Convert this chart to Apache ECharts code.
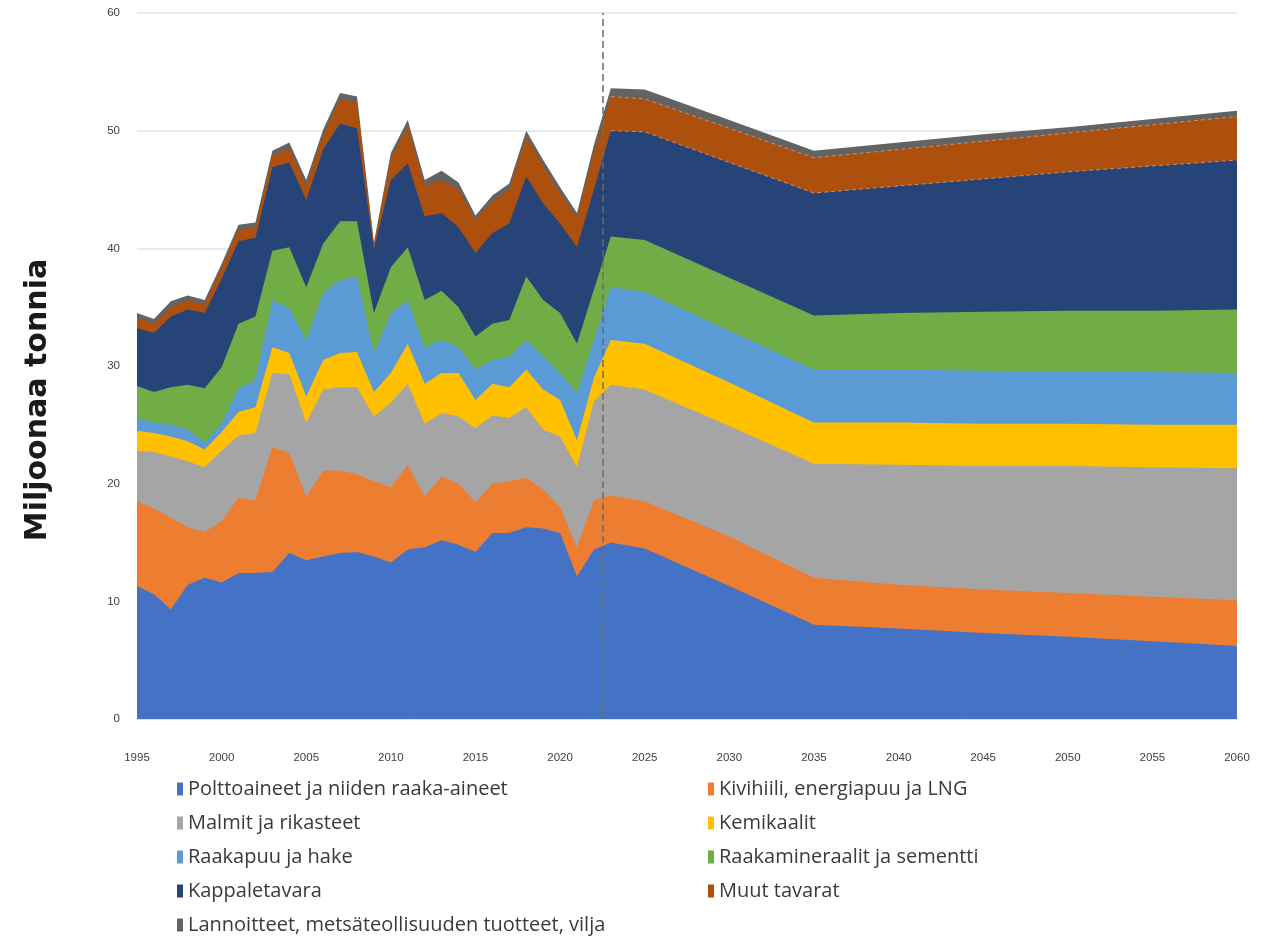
<!DOCTYPE html>
<html>
<head>
<meta charset="utf-8">
<script src="https://cdn.jsdelivr.net/npm/echarts@6/dist/echarts.min.js"></script>
<style>
html,body{margin:0;padding:0;background:#fff;}
#chart{width:1266px;height:944px;}
</style>
</head>
<body>
<div id="chart"></div>
<script>
// ---- DATA ----
const years = [1995,1996,1997,1998,1999,2000,2001,2002,2003,2004,2005,2006,2007,2008,2009,2010,2011,2012,2013,2014,2015,2016,2017,2018,2019,2020,2021,2022,
               2023,2025,2030,2035,2040,2045,2050,2055,2060];

const seriesNames = [
  'Polttoaineet ja niiden raaka-aineet',
  'Kivihiili, energiapuu ja LNG',
  'Malmit ja rikasteet',
  'Kemikaalit',
  'Raakapuu ja hake',
  'Raakamineraalit ja sementti',
  'Kappaletavara',
  'Muut tavarat',
  'Lannoitteet, metsäteollisuuden tuotteet, vilja'
];

const polttoaineet = [11.3,10.6,9.3,11.4,12.0,11.6,12.4,12.4,12.5,14.1,13.5,13.8,14.1,14.2,13.8,13.3,14.4,14.6,15.2,14.8,14.2,15.8,15.8,16.3,16.2,15.8,12.1,14.4,
                      15.0,14.5,11.3,8.0,7.7,7.3,7.0,6.6,6.2];
const kivihiili   = [7.2,7.3,7.8,4.9,3.9,5.2,6.4,6.2,10.6,8.5,5.4,7.3,7.0,6.6,6.4,6.4,7.2,4.3,5.4,5.2,4.2,4.2,4.4,4.2,3.3,2.2,2.5,4.2,
                      4.0,4.0,4.2,4.0,3.7,3.7,3.7,3.8,3.9];
const malmit      = [4.3,4.8,5.2,5.6,5.5,6.0,5.3,5.7,6.3,6.7,6.3,6.9,7.1,7.4,5.5,7.2,6.9,6.2,5.4,5.7,6.3,5.8,5.4,6.0,5.1,6.0,6.8,8.4,
                      9.4,9.5,9.4,9.7,10.2,10.5,10.8,11.0,11.2];
const kemikaalit  = [1.7,1.6,1.7,1.7,1.5,1.6,2.0,2.2,2.2,1.8,2.2,2.5,2.9,3.0,2.1,2.5,3.4,3.4,3.4,3.7,2.4,2.7,2.6,3.2,3.4,3.1,2.3,2.0,
                      3.8,3.9,3.7,3.5,3.6,3.6,3.6,3.6,3.7];
const raakapuu    = [1.1,0.9,1.0,1.0,0.6,0.7,2.0,2.3,4.0,3.8,4.8,5.7,6.2,6.4,3.3,5.1,3.7,3.1,2.8,2.2,2.6,2.0,2.6,2.5,2.8,2.3,4.0,3.2,
                      4.5,4.4,4.4,4.5,4.5,4.5,4.4,4.5,4.4];
const raakamineraalit = [2.7,2.6,3.2,3.8,4.6,4.8,5.5,5.4,4.2,5.2,4.5,4.2,5.0,4.7,3.4,3.9,4.5,4.0,4.2,3.4,2.8,3.1,3.1,5.4,4.8,5.1,4.2,4.3,
                      4.3,4.4,4.5,4.6,4.8,5.0,5.2,5.2,5.4];
const kappaletavara = [4.9,5.0,6.0,6.4,6.4,7.5,7.0,6.7,7.1,7.2,7.4,8.0,8.3,7.9,5.4,7.4,7.1,7.1,6.6,6.8,7.1,7.7,8.2,8.5,8.2,7.6,8.2,8.5,
                      9.0,9.2,9.8,10.4,10.8,11.3,11.8,12.3,12.7];
const muut        = [0.9,0.8,0.8,0.8,0.7,0.9,1.0,0.9,1.0,1.2,1.2,1.2,2.1,2.2,0.3,1.8,3.2,2.6,2.8,3.2,2.8,2.7,2.9,3.4,3.2,2.6,2.5,3.2,
                      2.9,2.8,2.9,3.0,3.1,3.2,3.3,3.5,3.7];
const lannoitteet = [0.4,0.4,0.5,0.4,0.4,0.4,0.4,0.4,0.4,0.5,0.5,0.5,0.5,0.5,0.3,0.5,0.5,0.5,0.8,0.6,0.4,0.5,0.5,0.5,0.5,0.5,0.4,0.6,
                      0.7,0.8,0.7,0.6,0.6,0.6,0.5,0.5,0.5];

const seriesValues = [polttoaineet,kivihiili,malmit,kemikaalit,raakapuu,raakamineraalit,kappaletavara,muut,lannoitteet];
const colors = ['#4472C4','#ED7D31','#A5A5A5','#FFC000','#5B9BD5','#70AD47','#264478','#AD500E','#636363'];

const yTicks = [0,10,20,30,40,50,60];
const forecastStart = 2022.5;
const firstForecastYear = 2023;
const yAxisTitle = 'Miljoonaa tonnia';

// ---- CHART ----
const chart = echarts.init(document.getElementById('chart'), null, {renderer:'canvas'});

// cumulative tops (stacked areas), computed from the series arrays
const cumulative = [];
seriesValues.forEach((vals, i) => {
  cumulative.push(vals.map((v, j) => +(v + (i > 0 ? cumulative[i-1][j] : 0)).toFixed(3)));
});

const series = [];
for (let i = seriesNames.length - 1; i >= 0; i--) {
  const s = {
    name: seriesNames[i],
    type: 'line',
    data: years.map((y, j) => [y, cumulative[i][j]]),
    symbol: 'none',
    showSymbol: false,
    lineStyle: {width: 0},
    areaStyle: {color: colors[i], opacity: 1, origin: 'start'},
    itemStyle: {color: colors[i]},
    emphasis: {disabled: true},
    silent: true
  };
  if (i === 0) {
    s.markLine = {
      silent: true,
      symbol: ['none','none'],
      label: {show: false},
      lineStyle: {color: '#6b6b6b', type: [7,4], width: 1.5},
      data: [{xAxis: forecastStart}]
    };
  }
  series.push(s);
}

// thin dashed borders of the "Muut tavarat" band in the forecast period
[6, 7].forEach(i => {
  series.push({
    type: 'line',
    data: years.map((y, j) => [y, cumulative[i][j]]).filter(p => p[0] >= firstForecastYear),
    symbol: 'none',
    showSymbol: false,
    lineStyle: {width: 1, color: '#E0956A', type: [4, 3], opacity: 0.85},
    emphasis: {disabled: true},
    silent: true,
    z: 3
  });
});

const legendText = {fontSize: 20, color: '#3a3a3a', fontFamily: '"Open Sans", sans-serif', lineHeight: 20};
const axisFont = '"Liberation Sans", Arial, sans-serif';

chart.setOption({
  backgroundColor: '#ffffff',
  animation: false,
  grid: {left: 137, right: 29, top: 13, bottom: 225, containLabel: false},
  xAxis: {
    type: 'value',
    min: 1995, max: 2060, interval: 5,
    axisLine: {show: true, lineStyle: {color: '#e0e0e0'}},
    axisTick: {show: false},
    splitLine: {show: false},
    axisLabel: {color: '#404040', fontSize: 11.5, margin: 33, fontFamily: axisFont, formatter: v => String(v)}
  },
  yAxis: {
    type: 'value',
    min: yTicks[0], max: yTicks[yTicks.length-1], interval: 10,
    axisLine: {show: false},
    axisTick: {show: false},
    splitLine: {show: true, lineStyle: {color: '#e3e3e3', width: 1.5}},
    axisLabel: {color: '#404040', fontSize: 11.5, margin: 17, fontFamily: axisFont}
  },
  legend: [
    {
      orient: 'vertical', left: 172, top: 774,
      itemWidth: 6, itemHeight: 13, itemGap: 14, icon: 'rect',
      textStyle: legendText,
      data: [seriesNames[0], seriesNames[2], seriesNames[4], seriesNames[6], seriesNames[8]],
      selectedMode: false
    },
    {
      orient: 'vertical', left: 703, top: 774,
      itemWidth: 6, itemHeight: 13, itemGap: 14, icon: 'rect',
      textStyle: legendText,
      data: [seriesNames[1], seriesNames[3], seriesNames[5], seriesNames[7]],
      selectedMode: false
    }
  ],
  graphic: [{
    type: 'text',
    x: 38, y: 400,
    rotation: Math.PI / 2,
    style: {
      text: yAxisTitle,
      fill: '#1a1a1a',
      font: 'bold 30px "DejaVu Sans", sans-serif',
      align: 'center',
      verticalAlign: 'middle'
    }
  }],
  series: series
});
</script>
</body>
</html>
